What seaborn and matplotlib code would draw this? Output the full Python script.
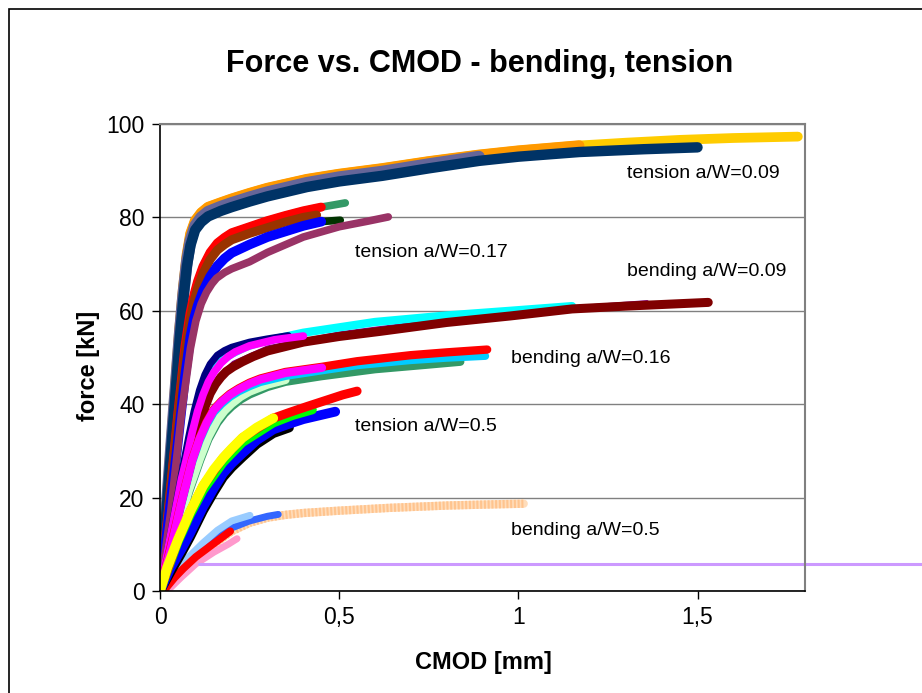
import matplotlib
matplotlib.use("Agg")
import matplotlib.pyplot as plt
import seaborn as sns
from matplotlib.patches import Rectangle

# ---------------- data: CMOD [mm] and force [kN] per specimen ----------------
# tension a/W = 0.09
CMOD_T09_YELLOW = [0, 0.02, 0.04, 0.055, 0.065, 0.075, 0.085, 0.098, 0.115, 0.134, 0.17, 0.2, 0.25, 0.3, 0.41, 0.5, 0.62, 0.75, 0.89, 1.0, 1.17, 1.3, 1.45, 1.6, 1.78]
FORCE_T09_YELLOW = [0, 20, 41, 56.5, 65, 72, 76.5, 79.3, 81, 82.2, 83.2, 84, 85.2, 86.3, 88.2, 89.3, 90.5, 92, 93.4, 94.3, 95.4, 96, 96.6, 97, 97.3]
CMOD_T09_ORANGE = [0, 0.02, 0.04, 0.055, 0.065, 0.075, 0.085, 0.098, 0.115, 0.134, 0.17, 0.2, 0.25, 0.3, 0.41, 0.5, 0.62, 0.75, 0.89, 1.0, 1.17]
FORCE_T09_ORANGE = [0, 20, 41, 56.5, 65, 72, 76.5, 79.3, 81, 82.2, 83.2, 84, 85.2, 86.3, 88.2, 89.3, 90.5, 92, 93.4, 94.3, 95.4]
CMOD_T09_SLATE = [0, 0.02, 0.04, 0.055, 0.065, 0.075, 0.085, 0.098, 0.115, 0.134, 0.17, 0.2, 0.25, 0.3, 0.41, 0.5, 0.62, 0.75, 0.89]
FORCE_T09_SLATE = [0, 19.5, 40, 55, 63.5, 70.5, 75, 78.2, 80, 81.2, 82.3, 83.1, 84.3, 85.4, 87.4, 88.6, 89.8, 91.4, 93]
CMOD_T09_NAVY = [0, 0.02, 0.04, 0.055, 0.065, 0.075, 0.085, 0.098, 0.115, 0.134, 0.17, 0.2, 0.25, 0.3, 0.41, 0.5, 0.62, 0.75, 0.89, 1.0, 1.17, 1.35, 1.5]
FORCE_T09_NAVY = [0, 19, 39, 54, 62.5, 69.5, 74, 77.3, 79, 80.2, 81.4, 82.2, 83.4, 84.5, 86.5, 87.7, 88.9, 90.5, 92.1, 93.0, 94.0, 94.6, 95.0]

# tension a/W = 0.17
CMOD_T17_SEAGREEN = [0, 0.025, 0.05, 0.07, 0.084, 0.095, 0.105, 0.12, 0.14, 0.16, 0.18, 0.2, 0.25, 0.3, 0.35, 0.4, 0.45, 0.48, 0.517]
FORCE_T17_SEAGREEN = [0, 18.5, 38, 52.5, 59.5, 63.5, 66.3, 69.5, 72.5, 74.5, 75.7, 76.7, 78, 79.3, 80.4, 81.4, 82.2, 82.6, 83.1]
CMOD_T17_RED = [0, 0.025, 0.05, 0.07, 0.084, 0.095, 0.105, 0.12, 0.14, 0.16, 0.18, 0.2, 0.25, 0.3, 0.35, 0.4, 0.45]
FORCE_T17_RED = [0, 18.5, 38, 52.5, 59.5, 63.5, 66.3, 69.5, 72.5, 74.5, 75.7, 76.7, 78, 79.3, 80.4, 81.4, 82.2]
CMOD_T17_BROWN = [0, 0.025, 0.05, 0.07, 0.084, 0.095, 0.105, 0.12, 0.14, 0.16, 0.18, 0.2, 0.25, 0.3, 0.35, 0.4, 0.437]
FORCE_T17_BROWN = [0, 18, 37, 51, 58, 62, 64.8, 68, 71, 73, 74.2, 75.2, 76.6, 77.8, 79, 80, 80.5]
CMOD_T17_DKGREEN = [0, 0.025, 0.047, 0.07, 0.085, 0.095, 0.105, 0.12, 0.14, 0.16, 0.18, 0.2, 0.25, 0.3, 0.35, 0.4, 0.45, 0.503]
FORCE_T17_DKGREEN = [0, 16, 30, 46, 54.5, 58.3, 61, 64.2, 67.3, 69.6, 71.2, 72.4, 74.2, 75.8, 77, 78.2, 79.1, 79.4]
CMOD_T17_BLUE = [0, 0.025, 0.047, 0.07, 0.085, 0.095, 0.105, 0.12, 0.14, 0.16, 0.18, 0.2, 0.25, 0.3, 0.35, 0.4, 0.45]
FORCE_T17_BLUE = [0, 16, 30, 46, 54.5, 58.3, 61, 64.2, 67.3, 69.6, 71.2, 72.4, 74.2, 75.8, 77, 78.2, 79.1]
CMOD_T17_PLUM = [0, 0.03, 0.06, 0.085, 0.1, 0.115, 0.13, 0.145, 0.158, 0.18, 0.2, 0.25, 0.3, 0.4, 0.5, 0.58, 0.637]
FORCE_T17_PLUM = [0, 17, 38, 52, 57.8, 61.5, 64, 65.8, 67, 68.2, 69, 70.5, 72.5, 75.8, 78, 79.2, 80.1]

# bending a/W = 0.09
CMOD_B09_PURPLE = [0, 0.06, 0.126, 0.17, 0.204, 0.3, 0.5, 0.8, 1.0, 1.2, 1.36]
FORCE_B09_PURPLE = [0, 19.5, 40.5, 46.5, 49, 52.3, 55.3, 58.3, 59.9, 61.1, 62]
CMOD_B09_CYAN = [0, 0.03, 0.06, 0.08, 0.1, 0.115, 0.13, 0.15, 0.175, 0.2, 0.24, 0.28, 0.4, 0.6, 0.8, 0.978, 1.15]
FORCE_B09_CYAN = [0, 11, 23, 31, 38, 42, 45, 47.6, 49.5, 50.8, 52.3, 53.3, 55.3, 57.6, 59, 60, 61]
CMOD_B09_DARKRED = [0, 0.03, 0.06, 0.088, 0.11, 0.126, 0.14, 0.155, 0.17, 0.185, 0.204, 0.23, 0.26, 0.3, 0.4, 0.5, 0.615, 0.8, 0.978, 1.15, 1.3, 1.53]
FORCE_B09_DARKRED = [0, 9, 19, 28, 35, 39.5, 42.3, 44.3, 45.8, 47, 48, 49.1, 50.2, 51.4, 53.3, 54.5, 55.6, 57.5, 58.9, 60.4, 61, 61.8]
CMOD_B09_NAVY = [0, 0.03, 0.06, 0.08, 0.095, 0.11, 0.125, 0.14, 0.16, 0.18, 0.2, 0.25, 0.3, 0.358]
FORCE_B09_NAVY = [0, 12.5, 25, 33, 38.5, 43, 46.3, 48.6, 50.5, 51.5, 52.2, 53.3, 54, 54.7]
CMOD_B09_MAGENTA = [0, 0.03, 0.06, 0.073, 0.09, 0.105, 0.12, 0.135, 0.15, 0.17, 0.19, 0.21, 0.25, 0.32, 0.4]
FORCE_B09_MAGENTA = [0, 12, 24, 28, 34, 38.5, 42, 44.8, 46.8, 48.8, 50.2, 51.2, 52.5, 53.8, 54.6]

# bending a/W = 0.16
CMOD_B16_SEAGREEN = [0, 0.04, 0.08, 0.112, 0.135, 0.16, 0.18, 0.2, 0.225, 0.25, 0.3, 0.35, 0.45, 0.6, 0.75, 0.838]
FORCE_B16_SEAGREEN = [0, 10, 21, 28, 32.5, 36, 38, 39.5, 41, 42.1, 43.7, 44.8, 46, 47.5, 48.5, 49.1]
CMOD_B16_MINT = [0, 0.04, 0.08, 0.112, 0.135, 0.16, 0.18, 0.2, 0.225, 0.25, 0.3, 0.35]
FORCE_B16_MINT = [0, 10.5, 21.5, 28.5, 33, 36.6, 38.6, 40.1, 41.6, 42.7, 44.2, 45.2]
CMOD_B16_SKY = [0, 0.03, 0.06, 0.09, 0.11, 0.13, 0.15, 0.172, 0.195, 0.22, 0.25, 0.28, 0.35, 0.452, 0.55, 0.7, 0.8, 0.908]
FORCE_B16_SKY = [0, 9, 18.5, 27.5, 32, 35.5, 38.2, 40, 41.5, 42.7, 43.8, 44.7, 46, 47.2, 48.3, 49.4, 49.9, 50.3]
CMOD_B16_RED = [0, 0.03, 0.06, 0.09, 0.11, 0.13, 0.15, 0.172, 0.195, 0.22, 0.25, 0.28, 0.35, 0.452, 0.55, 0.7, 0.8, 0.913]
FORCE_B16_RED = [0, 9.5, 19.2, 28.2, 32.7, 36.2, 38.9, 40.7, 42.2, 43.4, 44.6, 45.5, 46.9, 48, 49.2, 50.5, 51.1, 51.7]
CMOD_B16_MAGENTA = [0, 0.03, 0.06, 0.09, 0.11, 0.13, 0.15, 0.172, 0.195, 0.22, 0.25, 0.28, 0.35, 0.452]
FORCE_B16_MAGENTA = [0, 9, 19, 28, 32.5, 36, 38.7, 40.5, 42, 43.2, 44.4, 45.3, 46.7, 47.8]

# bending a/W = 0.5
CMOD_B50_PEACH = [0, 0.05, 0.1, 0.15, 0.2, 0.25, 0.3, 0.35, 0.4, 0.5, 0.64, 0.8, 0.9, 1.015]
FORCE_B50_PEACH = [0, 3.5, 7, 10, 12.8, 14.6, 15.7, 16.3, 16.7, 17.2, 17.8, 18.3, 18.5, 18.7]
CMOD_B50_PINK = [0.02, 0.06, 0.1, 0.15, 0.19, 0.215]
FORCE_B50_PINK = [0, 3, 5.8, 8.3, 10, 11.2]
CMOD_B50_ROYAL = [0, 0.04, 0.08, 0.12, 0.16, 0.2, 0.25, 0.3, 0.33]
FORCE_B50_ROYAL = [0, 3, 6, 9, 11.5, 13.5, 15, 16, 16.4]
CMOD_B50_LTBLUE = [0, 0.04, 0.08, 0.12, 0.16, 0.2, 0.251]
FORCE_B50_LTBLUE = [0, 3.7, 7.3, 10.3, 13, 15, 16.2]
CMOD_B50_RED = [0.01, 0.04, 0.065, 0.1, 0.14, 0.17, 0.196]
FORCE_B50_RED = [0, 2.8, 4.8, 7.3, 9.6, 11.3, 12.8]

# tension a/W = 0.5
CMOD_T50_BLACK = [0, 0.03, 0.06, 0.084, 0.12, 0.15, 0.176, 0.2, 0.23, 0.27, 0.316, 0.36]
FORCE_T50_BLACK = [0, 4.2, 8.2, 11.6, 17.2, 21.2, 24.4, 26.5, 28.7, 31.5, 33.8, 35]
CMOD_T50_BLUE = [0, 0.03, 0.06, 0.084, 0.12, 0.15, 0.176, 0.2, 0.23, 0.27, 0.316, 0.36, 0.4, 0.45, 0.489]
FORCE_T50_BLUE = [0, 5, 9, 12.4, 18, 22, 25.2, 27.3, 29.5, 32.3, 34.6, 35.8, 36.8, 37.7, 38.4]
CMOD_T50_GREEN = [0, 0.05, 0.084, 0.12, 0.176, 0.23, 0.316, 0.37, 0.425]
FORCE_T50_GREEN = [0, 10.5, 16.3, 21.5, 27.5, 31.8, 36, 37.6, 38.8]
CMOD_T50_RED = [0, 0.05, 0.084, 0.12, 0.176, 0.23, 0.316, 0.36, 0.41, 0.47, 0.51, 0.55]
FORCE_T50_RED = [0, 11, 17, 22.5, 28.5, 32.8, 37, 38.2, 39.5, 41, 42, 42.8]
CMOD_T50_YELLOW = [0, 0.02, 0.05, 0.084, 0.12, 0.15, 0.176, 0.2, 0.23, 0.27, 0.316]
FORCE_T50_YELLOW = [0, 5, 11, 17, 22.5, 26, 28.5, 30.5, 32.8, 35, 37]

# long reference trace
CMOD_REF = [0.11, 2.6]
FORCE_REF = [5.7, 5.7]

# group captions: text, CMOD, force
CAPTIONS = ["tension a/W=0.09", "tension a/W=0.17", "bending a/W=0.09",
            "bending a/W=0.16", "tension a/W=0.5", "bending a/W=0.5"]
CAPTION_X = [1.304, 0.545, 1.304, 0.98, 0.545, 0.98]
CAPTION_Y = [89.5, 72.4, 68.5, 49.7, 35.3, 13.0]

X_TICKS = [0, 0.5, 1, 1.5]
X_TICK_LABELS = ["0", "0,5", "1", "1,5"]
Y_TICKS = [0, 20, 40, 60, 80, 100]

# ---------------- figure ----------------
sns.set_style("white")
plt.rcParams['font.family'] = ['Liberation Sans', 'DejaVu Sans']
plt.rcParams['text.color'] = 'black'
plt.rcParams['axes.labelcolor'] = 'black'
plt.rcParams['xtick.color'] = 'black'
plt.rcParams['ytick.color'] = 'black'

W, H = 922, 693
fig = plt.figure(figsize=(W / 100, H / 100), dpi=100)
fig.patch.set_facecolor("white")
ax = fig.add_axes([160 / W, 1 - 591 / H, (805 - 160) / W, (591 - 124) / H])


def trace(x, f, color, lw, ls="-", clip=True):
    sns.lineplot(x=x, y=f, ax=ax, color=color, lw=lw, sort=False, estimator=None,
                 linestyle=ls, solid_capstyle="round", solid_joinstyle="round",
                 dash_capstyle="butt", clip_on=clip)


# tension a/W = 0.09
trace(CMOD_T09_YELLOW, FORCE_T09_YELLOW, "#FFCC00", 7)
trace(CMOD_T09_ORANGE, FORCE_T09_ORANGE, "#FF9900", 7.5)
trace(CMOD_T09_SLATE, FORCE_T09_SLATE, "#666699", 8.5)
trace(CMOD_T09_NAVY, FORCE_T09_NAVY, "#003366", 7.5)

# tension a/W = 0.17
trace(CMOD_T17_SEAGREEN, FORCE_T17_SEAGREEN, "#339966", 5.5)
trace(CMOD_T17_RED, FORCE_T17_RED, "#FF0000", 6.5)
trace(CMOD_T17_BROWN, FORCE_T17_BROWN, "#993300", 6.5)
trace(CMOD_T17_DKGREEN, FORCE_T17_DKGREEN, "#003300", 5.5)
trace(CMOD_T17_BLUE, FORCE_T17_BLUE, "#0000FF", 7)
trace(CMOD_T17_PLUM, FORCE_T17_PLUM, "#993366", 5.5)

# bending a/W = 0.09
trace(CMOD_B09_PURPLE, FORCE_B09_PURPLE, "#800080", 2)
trace(CMOD_B09_CYAN, FORCE_B09_CYAN, "#00FFFF", 6)
trace(CMOD_B09_DARKRED, FORCE_B09_DARKRED, "#800000", 6.5)
trace(CMOD_B09_NAVY, FORCE_B09_NAVY, "#000080", 5)
trace(CMOD_B09_MAGENTA, FORCE_B09_MAGENTA, "#FF00FF", 5.5)

# bending a/W = 0.16
trace(CMOD_B16_SEAGREEN, FORCE_B16_SEAGREEN, "#339966", 6)
trace(CMOD_B16_MINT, FORCE_B16_MINT, "#CCFFCC", 6)
trace(CMOD_B16_SKY, FORCE_B16_SKY, "#00CCFF", 5.5)
trace(CMOD_B16_RED, FORCE_B16_RED, "#FF0000", 6)
trace(CMOD_B16_MAGENTA, FORCE_B16_MAGENTA, "#FF00FF", 6)

# bending a/W = 0.5
trace(CMOD_B50_PEACH, FORCE_B50_PEACH, "#FFDDBB", 6)
trace(CMOD_B50_PEACH, FORCE_B50_PEACH, "#FFC48E", 6, ls=(0, (0.25, 0.2)))
trace(CMOD_B50_PINK, FORCE_B50_PINK, "#FF99CC", 5)
trace(CMOD_B50_ROYAL, FORCE_B50_ROYAL, "#3366FF", 5)
trace(CMOD_B50_LTBLUE, FORCE_B50_LTBLUE, "#99CCFF", 5)
trace(CMOD_B50_RED, FORCE_B50_RED, "#FF0000", 5.5)

# tension a/W = 0.5
trace(CMOD_T50_BLACK, FORCE_T50_BLACK, "#000000", 7)
trace(CMOD_T50_BLUE, FORCE_T50_BLUE, "#0000FF", 7)
trace(CMOD_T50_GREEN, FORCE_T50_GREEN, "#00FF00", 6.5)
trace(CMOD_T50_RED, FORCE_T50_RED, "#FF0000", 6.5)
trace(CMOD_T50_YELLOW, FORCE_T50_YELLOW, "#FFFF00", 7)

# long reference trace running off the plot area
trace(CMOD_REF, FORCE_REF, "#CC99FF", 2.2, clip=False)

for txt, cx, cy in zip(CAPTIONS, CAPTION_X, CAPTION_Y):
    ax.text(cx, cy, txt, fontsize=14, ha="left", va="center", color="black")

# ---------------- axes styling ----------------
ax.set_xlim(0, 1.8)
ax.set_ylim(0, 100)
ax.set_xticks(X_TICKS)
ax.set_xticklabels(X_TICK_LABELS)
ax.set_yticks(Y_TICKS)
ax.yaxis.grid(True, color="#808080", lw=1)
ax.xaxis.grid(False)
ax.set_axisbelow(True)
ax.set_xlabel("")
ax.set_ylabel("")
ax.tick_params(axis="both", direction="out", length=6, width=1, labelsize=16.5,
               color="black", labelcolor="black", pad=5, bottom=True, left=True)
for side in ("left", "bottom"):
    ax.spines[side].set_color("black")
    ax.spines[side].set_linewidth(1.2)
for side in ("top", "right"):
    ax.spines[side].set_color("#808080")
    ax.spines[side].set_linewidth(1.5)

fig.text(480 / W, 1 - 64 / H, "Force vs. CMOD - bending, tension",
         fontsize=22, fontweight="bold", ha="center", va="center", color="black")
fig.text(483 / W, 1 - 662 / H, "CMOD [mm]", fontsize=17, fontweight="bold",
         ha="center", va="center", color="black")
fig.text(88 / W, 1 - 366 / H, "force [kN]", fontsize=17, fontweight="bold",
         ha="center", va="center", rotation=90, color="black")

# chart-area border
fig.add_artist(Rectangle((8.5 / W, -0.2), 2, 1.2 - 8.5 / H, transform=fig.transFigure,
                         fill=False, edgecolor="black", lw=1.2))

fig.savefig("out.png", dpi=100)
